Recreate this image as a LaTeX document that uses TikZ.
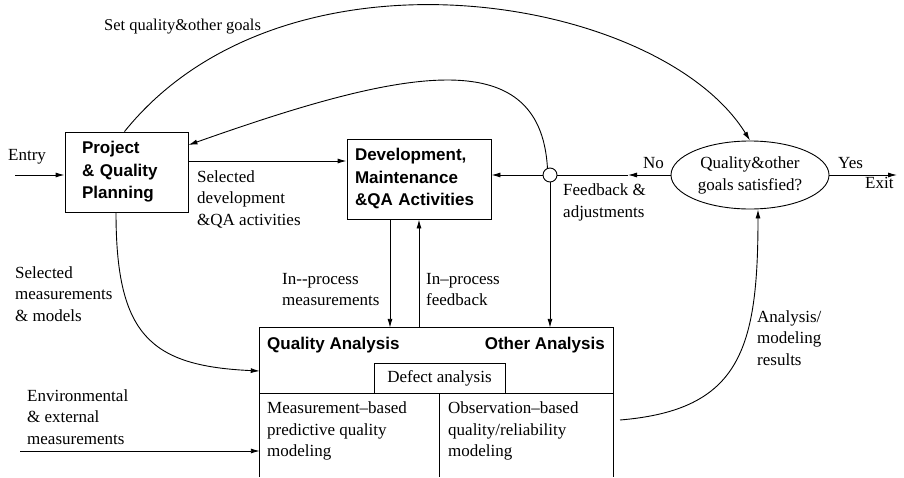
\documentclass[tikz,border=0pt]{standalone}
\usepackage{fontspec}
\setmainfont{Liberation Serif}
\setsansfont{Liberation Sans}
\usetikzlibrary{arrows.meta,shapes.geometric}
\begin{document}
\begin{tikzpicture}[x=1pt,y=-1pt,
  every node/.style={inner sep=0pt, font=\fontsize{17}{21.5}\selectfont},
  lbl/.style={align=left, anchor=west},
  boxlbl/.style={font=\fontsize{17}{22.5}\selectfont\sffamily\bfseries},
  procbox/.style={draw, line width=0.9pt, align=left, minimum height=80pt},
  plain/.style={line width=0.9pt},
  conn/.style={line width=0.9pt, -{Latex[length=9pt,width=5pt]}}]
\useasboundingbox (0,0) rectangle (904,477);

% main nodes
\node[procbox, boxlbl, minimum width=123pt, text width=89pt, inner xsep=17pt] (proj) at (126.5,172) {Project\\\& Quality\\Planning};
\node[procbox, boxlbl, minimum width=144pt, text width=128pt, inner xsep=8pt] (dev) at (419,179) {Development,\\Maintenance\\\&QA Activities};
\node[draw, plain, ellipse, minimum width=158pt, minimum height=68pt, align=center, font=\fontsize{17}{22}\selectfont] (ell) at (750,175) {Quality\&other\\goals satisfied?};
\node[draw, plain, circle, minimum size=14pt] (circ) at (550,175) {};
\node[minimum width=353pt, minimum height=149pt] (qa) at (436.5,402.5) {};
\node[draw, plain, minimum width=131pt, minimum height=30pt] (defect) at (439.5,378) {Defect analysis};

% QA box outline
\draw[plain] (qa.south west) -- (qa.north west) -- (qa.north east) -- (qa.south east);
\draw[plain] (qa.west |- defect.south) -- (qa.east |- defect.south);
\draw[plain] (defect.south) -- (defect.south |- qa.south);

% QA texts
\node[boxlbl, anchor=west] (qalbl) at (267,345) {Quality Analysis};
\node[boxlbl, anchor=east] (oalbl) at (605,345) {Other Analysis};
\node[lbl] (mbm) at (267,431) {Measurement–based\\predictive quality\\modeling};
\node[lbl] (obm) at (448,431) {Observation–based\\quality/reliability\\modeling};

% labels
\node[lbl] (entry) at (8,157) {Entry};
\node[lbl, font=\fontsize{16.5}{20}\selectfont] (setq) at (104,27) {Set quality\&other goals};
\node[lbl] (seldev) at (197,199) {Selected\\development\\\&QA activities};
\node[lbl] (fb) at (563,202.5) {Feedback \&\\adjustments};
\node[lbl] (ipm) at (282,289.5) {In-{}-process\\measurements};
\node[lbl] (ipf) at (426,289.5) {In--process\\feedback};
\node[lbl] (selm) at (15,294) {Selected\\measurements\\\& models};
\node[lbl] (env) at (27,417) {Environmental\\\& external\\measurements};
\node[lbl] (anl) at (757,338) {Analysis/\\modeling\\results};
\node[lbl] (no) at (643,163) {No};
\node[lbl] (yes) at (838,163) {Yes};
\node[lbl] (exit) at (865,183) {Exit};

% helper coordinates
\coordinate (entryS) at (15,175);
\coordinate (pd) at (0,161);
\coordinate (ph) at (0,145);
\coordinate (sm) at (0,371);
\coordinate (envS) at (20,451);
\coordinate (nohead) at (628,175);
\coordinate (exitE) at (897,175);
\coordinate (anS) at (620,420);

% connectors
\draw[conn] (entryS) -- (proj.west |- entryS);
\draw[conn] (proj.east |- pd) -- (dev.west |- pd);
\draw[conn] (circ.west) -- (dev.east |- circ.west);
\draw[conn] (ell.west) -- (nohead);
\draw[plain] (nohead) -- (circ.east);
\draw[conn] (ell.east) -- (exitE);
\draw[conn] (circ.south) -- (circ.south |- qa.north);
\draw[conn] ([xshift=-29pt]dev.south) -- ([xshift=-29pt]dev.south |- qa.north);
\draw[conn] (dev.south |- qa.north) -- (dev.south);
\draw[conn] ([xshift=-2pt]proj.north) .. controls (285,-68) and (660,-5) .. (ell.north);
\draw[conn] (circ.110) .. controls (540,40) and (400,70) .. (proj.east |- ph);
\draw[conn] ([xshift=-10.5pt]proj.south) .. controls (116,335) and (150,366) .. (qa.west |- sm);
\draw[conn] (envS) -- (qa.west |- envS);
\draw[conn] (anS) .. controls (740,410) and (758,350) .. ([xshift=8pt]ell.south);
\end{tikzpicture}
\end{document}
